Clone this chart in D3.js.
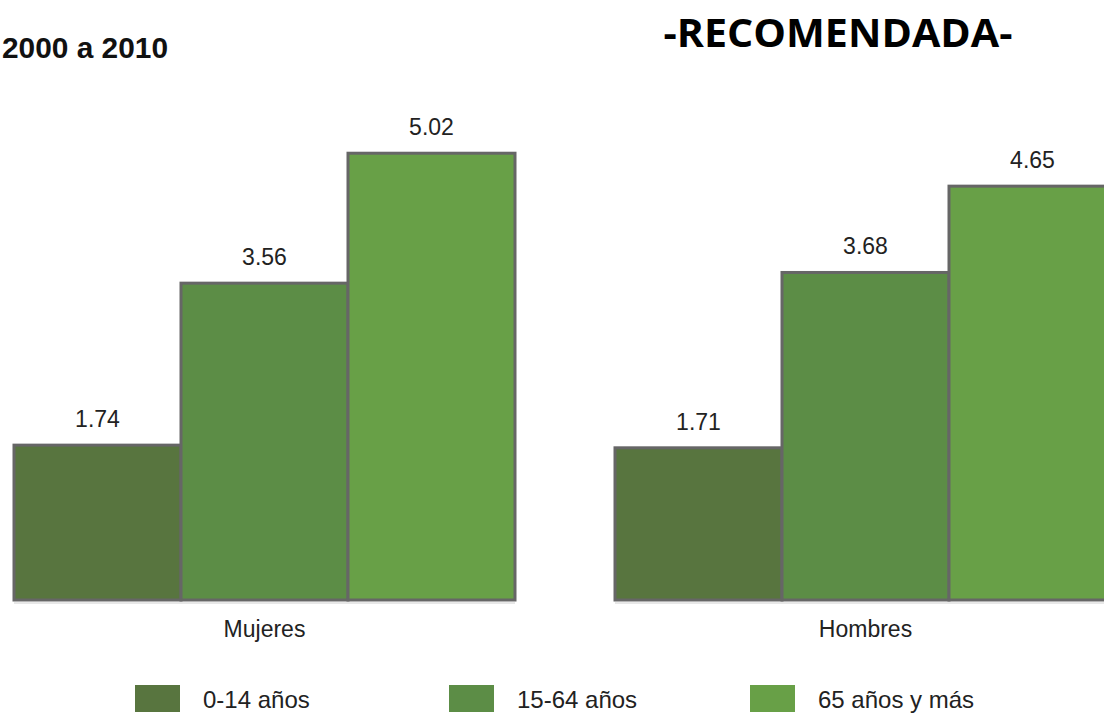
<!DOCTYPE html>
<html lang="es">
<head>
    <meta charset="UTF-8">
    <title>2000 a 2010 - RECOMENDADA</title>
    <script src="https://d3js.org/d3.v7.min.js"></script>
    <style>
        body { margin: 0; background: #fff; font-family: "Liberation Sans", Arial, sans-serif; }
        svg { display: block; }
    </style>
</head>
<body>
    <div id="chart"></div>
    <script>
        // data
        const groups = ["Mujeres", "Hombres"];
        const ages = ["0-14 años", "15-64 años", "65 años y más"];
        const mujeres = [1.74, 3.56, 5.02];
        const hombres = [1.71, 3.68, 4.65];
        const colors = ["#58753f", "#5c8d46", "#68a047"];

        const width = 1104, height = 716;
        const svg = d3.select("#chart").append("svg")
            .attr("width", width).attr("height", height);

        const rows = groups.map((g, i) => ({
            group: g,
            values: (i === 0 ? mujeres : hombres).map((v, j) => ({ age: ages[j], value: v, color: colors[j] }))
        }));

        // scales
        const x0 = d3.scaleBand().domain(groups).range([14, 1116]).paddingInner(100 / 601).paddingOuter(0);
        const x1 = d3.scaleBand().domain(ages).range([0, x0.bandwidth()]).padding(0);
        const y = d3.scaleLinear().domain([0, 6]).range([600, 66]);

        // titles
        svg.append("text")
            .attr("x", 2).attr("y", 58)
            .attr("font-size", 30).attr("font-weight", "bold")
            .attr("textLength", 166).attr("lengthAdjust", "spacingAndGlyphs")
            .attr("fill", "#111")
            .text("2000 a 2010");

        svg.append("text")
            .attr("x", 838).attr("y", 47)
            .attr("text-anchor", "middle")
            .attr("font-family", "'Open Sans', sans-serif")
            .attr("font-size", 40).attr("font-weight", "bold")
            .attr("textLength", 349).attr("lengthAdjust", "spacingAndGlyphs")
            .attr("fill", "#000")
            .text("-RECOMENDADA-");

        // bars
        const g = svg.selectAll(".grp")
            .data(rows)
            .enter().append("g")
            .attr("class", "grp")
            .attr("transform", d => `translate(${x0(d.group)},0)`);

        // faint baseline shadow
        g.append("line")
            .attr("x1", 0).attr("x2", x0.bandwidth())
            .attr("y1", y(0) + 3).attr("y2", y(0) + 3)
            .attr("stroke", "#d0d0d0").attr("stroke-width", 1);

        g.selectAll("rect")
            .data(d => d.values)
            .enter().append("rect")
            .attr("x", d => x1(d.age))
            .attr("y", d => y(d.value))
            .attr("width", x1.bandwidth())
            .attr("height", d => y(0) - y(d.value))
            .attr("fill", d => d.color)
            .attr("stroke", "#666")
            .attr("stroke-width", 3);

        g.selectAll(".val")
            .data(d => d.values)
            .enter().append("text")
            .attr("class", "val")
            .attr("x", d => x1(d.age) + x1.bandwidth() / 2)
            .attr("y", d => y(d.value) - 18)
            .attr("text-anchor", "middle")
            .attr("font-size", 23)
            .attr("fill", "#222")
            .text(d => d.value.toFixed(2));

        g.append("text")
            .attr("x", x0.bandwidth() / 2)
            .attr("y", 637)
            .attr("text-anchor", "middle")
            .attr("font-size", 23)
            .attr("fill", "#222")
            .text(d => d.group);

        // legend
        const legX = [135, 449, 750];
        const leg = svg.selectAll(".leg")
            .data(ages)
            .enter().append("g")
            .attr("class", "leg")
            .attr("transform", (d, i) => `translate(${legX[i]},685)`);

        leg.append("rect")
            .attr("width", 45).attr("height", 27)
            .attr("fill", (d, i) => colors[i]);

        leg.append("text")
            .attr("x", 68).attr("y", 23)
            .attr("font-size", 24)
            .attr("fill", "#222")
            .text(d => d);
    </script>
</body>
</html>
